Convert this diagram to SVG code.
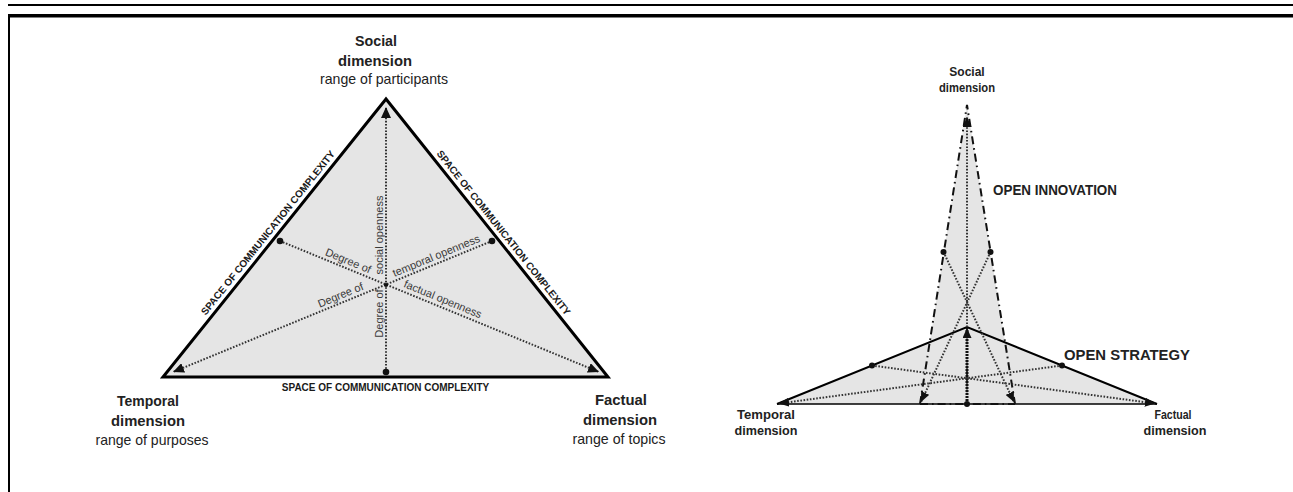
<svg xmlns="http://www.w3.org/2000/svg" width="1293" height="492" viewBox="0 0 1293 492">
<style>
text{font-family:"Liberation Sans",Arial,sans-serif;fill:#222}
.b{font-weight:bold}
.lab{font-size:15px;text-anchor:middle}
.edge{font-size:10px;font-weight:bold;text-anchor:middle;fill:#1a1a1a}
.deg{font-size:11px;text-anchor:middle;fill:#3a3a3a}
.rl{font-size:12px;font-weight:bold;text-anchor:middle}
.big{font-size:14px;font-weight:bold}
.dot{fill:none;stroke:#333;stroke-width:2;stroke-dasharray:1.6 1.6}
.dd{fill:none;stroke:#111;stroke-width:2;stroke-dasharray:8 4 1.6 4}
.tri{fill:#e5e5e5;stroke:#000;stroke-width:3;stroke-linejoin:miter}
.pt{fill:#111}
</style>
<defs>
<marker id="ah" markerUnits="userSpaceOnUse" markerWidth="12" markerHeight="10" refX="11" refY="5" orient="auto"><path d="M0,0 L11,5 L0,10 Z" fill="#111"/></marker>
<marker id="ah2" markerUnits="userSpaceOnUse" markerWidth="10" markerHeight="9" refX="10" refY="4.5" orient="auto"><path d="M0,0 L10,4.5 L0,9 Z" fill="#111"/></marker>
</defs>
<g id="frame">
<line x1="8" y1="5" x2="1293" y2="5" stroke="#000" stroke-width="2"/>
<line x1="8" y1="15.7" x2="1293" y2="15.7" stroke="#000" stroke-width="3.6"/>
<line x1="9" y1="14" x2="9" y2="492" stroke="#000" stroke-width="2"/>
</g>
<g id="left-triangle">
<polygon class="tri" points="386,99 163,377 608,377"/>
</g>
<g id="left-connectors">
<line class="dot" x1="386" y1="372" x2="386" y2="107" marker-end="url(#ah)"/>
<line class="dot" x1="492" y1="241" x2="173" y2="372" marker-end="url(#ah)"/>
<line class="dot" x1="280" y1="241" x2="599" y2="372" marker-end="url(#ah)"/>
</g>
<g id="left-points">
<circle class="pt" cx="386" cy="372" r="3.3"/>
<circle class="pt" cx="280" cy="241" r="3.3"/>
<circle class="pt" cx="492" cy="241" r="3.3"/>
<circle class="pt" cx="386" cy="285" r="2"/>
</g>
<g id="left-edge-labels">
<text class="edge" transform="translate(270.6,234.9) rotate(-51.27)">SPACE OF COMMUNICATION COMPLEXITY</text>
<text class="edge" transform="translate(500.9,234.9) rotate(51.39)">SPACE OF COMMUNICATION COMPLEXITY</text>
<text class="edge" x="385.5" y="391">SPACE OF COMMUNICATION COMPLEXITY</text>
</g>
<g id="left-openness-labels">
<text class="deg" transform="translate(383,313.5) rotate(-90)">Degree of</text>
<text class="deg" transform="translate(383,235) rotate(-90)">social openness</text>
<text class="deg" transform="translate(342,298.5) rotate(-22.39)">Degree of</text>
<text class="deg" transform="translate(437.7,259.1) rotate(-22.39)">temporal openness</text>
<text class="deg" transform="translate(346.8,264.2) rotate(22.39)">Degree of</text>
<text class="deg" transform="translate(441.4,302.6) rotate(22.39)">factual openness</text>
</g>
<g id="node-social">
<text class="lab b" x="376" y="46" textLength="42" lengthAdjust="spacingAndGlyphs">Social</text>
<text class="lab b" x="375" y="66" textLength="74" lengthAdjust="spacingAndGlyphs">dimension</text>
<text class="lab" x="384" y="84" textLength="128" lengthAdjust="spacingAndGlyphs">range of participants</text>
</g>
<g id="node-temporal">
<text class="lab b" x="148" y="406" textLength="62" lengthAdjust="spacingAndGlyphs">Temporal</text>
<text class="lab b" x="148" y="426" textLength="74" lengthAdjust="spacingAndGlyphs">dimension</text>
<text class="lab" x="152" y="445" textLength="113" lengthAdjust="spacingAndGlyphs">range of purposes</text>
</g>
<g id="node-factual">
<text class="lab b" x="621" y="405" textLength="52" lengthAdjust="spacingAndGlyphs">Factual</text>
<text class="lab b" x="620" y="425" textLength="74" lengthAdjust="spacingAndGlyphs">dimension</text>
<text class="lab" x="619" y="444" textLength="93" lengthAdjust="spacingAndGlyphs">range of topics</text>
</g>
<g id="right-fill">
<polygon points="967,105 920,404 1015,404" fill="#e5e5e5"/>
<polygon points="967,327 777,404 1157,404" fill="#e5e5e5"/>
</g>
<g id="open-strategy">
<polyline points="777,404 967,327 1157,404" fill="none" stroke="#000" stroke-width="2"/>
<line x1="777" y1="404" x2="1157" y2="404" stroke="#000" stroke-width="1.5"/>
</g>
<g id="open-innovation">
<polyline class="dd" points="920,404 967,105 1015,404"/>
<line class="dd" x1="920" y1="404" x2="1015" y2="404" stroke-width="2.5"/>
</g>
<g id="right-connectors">
<line class="dot" x1="967" y1="404" x2="967" y2="117" marker-end="url(#ah2)"/>
<line x1="967" y1="404" x2="967" y2="328" stroke="#111" stroke-width="3" stroke-dasharray="2 1" marker-end="url(#ah2)"/>
<line class="dot" x1="1062" y1="365.5" x2="779" y2="403.5" marker-end="url(#ah2)"/>
<line class="dot" x1="872" y1="365.5" x2="1155" y2="403.5" marker-end="url(#ah2)"/>
<line class="dot" x1="943.5" y1="252" x2="1014" y2="402" marker-end="url(#ah2)"/>
<line class="dot" x1="990.5" y1="252" x2="921" y2="402" marker-end="url(#ah2)"/>
</g>
<g id="right-points">
<circle class="pt" cx="872" cy="365.5" r="3"/>
<circle class="pt" cx="1062" cy="365.5" r="3"/>
<circle class="pt" cx="943.5" cy="252" r="3"/>
<circle class="pt" cx="990.5" cy="252" r="3"/>
<circle class="pt" cx="967" cy="404" r="3"/>
</g>
<g id="right-labels">
<text class="rl" x="967" y="76">Social</text>
<text class="rl" x="967" y="92" textLength="56" lengthAdjust="spacingAndGlyphs">dimension</text>
<text class="rl" x="766" y="419" textLength="58" lengthAdjust="spacingAndGlyphs">Temporal</text>
<text class="rl" x="766" y="435" textLength="63" lengthAdjust="spacingAndGlyphs">dimension</text>
<text class="rl" x="1173" y="419" textLength="37" lengthAdjust="spacingAndGlyphs">Factual</text>
<text class="rl" x="1175" y="435" textLength="63" lengthAdjust="spacingAndGlyphs">dimension</text>
<text class="big" x="993" y="195" textLength="124" lengthAdjust="spacingAndGlyphs">OPEN INNOVATION</text>
<text class="big" x="1064" y="360" textLength="126" lengthAdjust="spacingAndGlyphs">OPEN STRATEGY</text>
</g>
</svg>
